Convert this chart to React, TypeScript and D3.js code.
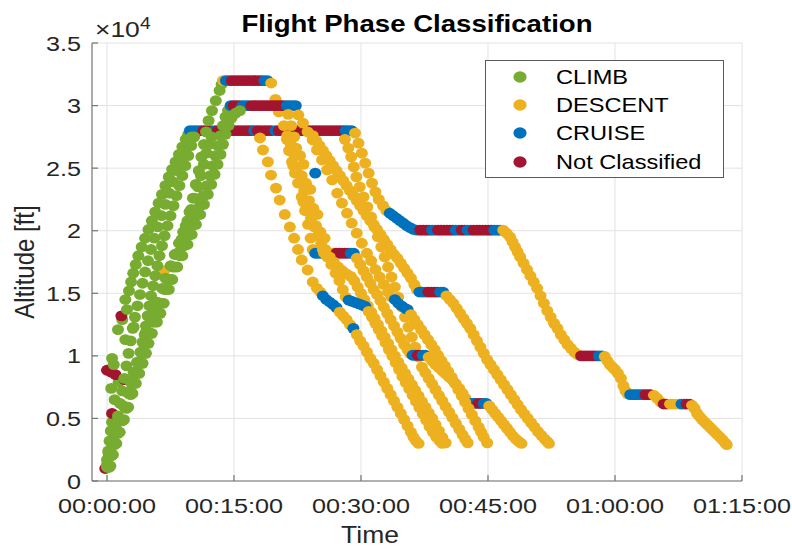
import React from 'react';
import * as d3 from 'd3';

// phase indices
const CL = 0, DE = 1, CR = 2, NC = 3;
const phases = ['CLIMB', 'DESCENT', 'CRUISE', 'Not Classified'];
const phaseColors = ['#77AC30', '#EDB120', '#0072BD', '#A2142F'];

const xTicks = [0, 15, 30, 45, 60, 75]; // minutes
const xTickLabels = ['00:00:00', '00:15:00', '00:30:00', '00:45:00', '01:00:00', '01:15:00'];
const yTicks = [0, 5000, 10000, 15000, 20000, 25000, 30000, 35000];
const yTickLabels = ['0', '0.5', '1', '1.5', '2', '2.5', '3', '3.5'];

type Pt = [number, number, number]; // [minutes, altitude kft, phase]

const outliers: Pt[] = [[6.75, 16.8, DE]];

const flight1: Pt[] = [
  [-0.2, 1.0, NC], [0.0, 1.7, CL], [0.15, 2.4, CL], [0.3, 3.2, CL], [0.45, 4.0, CL], [0.6, 4.7, CL], [0.6, 5.4, NC],
  [0.9, 6.5, CL], [0.5, 7.4, CL], [1.38, 7.9, CL], [0.0, 8.85, NC], [0.5, 8.7, NC], [1.0, 8.5, NC], [2.1, 8.1, NC],
  [0.8, 9.3, CL], [0.6, 9.8, CL], [2.17, 11.3, CL], [1.3, 12.1, CL], [3.15, 12.3, CL], [1.8, 12.9, CL], [1.7, 13.2, NC],
  [2.36, 13.7, CL], [2.17, 14.5, CL], [2.6, 15.2, CL], [2.85, 15.9, CL], [3.1, 16.6, CL], [3.4, 17.3, CL], [3.7, 18.0, CL],
  [4.1, 18.7, CL], [4.5, 19.4, CL], [4.9, 20.1, CL], [5.3, 20.8, CL], [5.7, 21.5, CL], [6.1, 22.2, CL], [6.5, 22.9, CL],
  [6.9, 23.6, CL], [7.3, 24.3, CL], [7.7, 24.9, CL], [8.1, 25.5, CL], [8.5, 26.1, CL], [8.9, 26.7, CL], [9.3, 27.3, CL],
  [9.6, 27.7, CL],
  [9.8, 28, CR], [10.2, 28, CR], [10.6, 28, CR], [11.0, 28, CR], [11.4, 28, NC], [11.8, 28, NC], [12.2, 28, NC],
  [12.7, 28, CR], [13.1, 28, NC], [13.5, 28, NC], [13.9, 28, NC], [14.3, 28, NC], [14.7, 28, NC], [15.1, 28, NC],
  [15.5, 28, NC], [15.9, 28, NC], [16.3, 28, NC], [16.7, 28, NC], [17.1, 28, NC], [17.4, 28, CR], [17.8, 28, NC],
  [18.2, 28, NC], [18.6, 28, NC], [19.0, 28, NC], [19.4, 28, NC], [19.9, 28, CR], [20.3, 28, NC], [20.7, 28, NC],
  [21.1, 28, NC], [21.5, 28, NC], [21.9, 28, NC], [22.3, 28, NC], [22.7, 28, NC], [23.1, 28, NC], [23.5, 28, NC],
  [23.9, 28, NC], [24.3, 28, NC], [24.7, 28, NC], [25.1, 28, NC], [25.5, 28, NC], [25.9, 28, NC], [26.3, 28, NC],
  [26.7, 28, NC], [27.1, 28, NC], [27.5, 28, NC], [27.9, 28, NC], [28.2, 28, CR], [28.55, 28, CR], [28.9, 28, CR],
  [29.3, 27.8, DE], [29.7, 27.0, DE], [30.1, 26.2, DE], [30.5, 25.4, DE], [30.9, 24.6, DE], [31.3, 23.8, DE],
  [31.7, 23.1, DE], [32.1, 22.5, DE], [32.6, 22.0, DE], [33.0, 21.6, DE],
  [33.4, 21.4, CR], [33.8, 21.2, CR], [34.2, 21.0, CR], [34.6, 20.8, CR], [35.0, 20.6, CR], [35.4, 20.4, CR],
  [35.8, 20.25, CR], [36.2, 20.1, CR], [36.6, 20.05, CR],
  [37.0, 20.05, NC], [37.35, 20.05, NC], [37.7, 20.05, NC], [38.05, 20.05, NC], [38.4, 20.05, CR], [38.75, 20.05, CR],
  [39.1, 20.05, NC], [39.45, 20.05, NC], [39.8, 20.05, NC], [40.15, 20.05, NC], [40.5, 20.05, NC], [40.85, 20.05, NC],
  [41.2, 20.05, CR], [41.55, 20.05, CR], [41.9, 20.05, NC], [42.25, 20.05, NC], [42.6, 20.05, CR], [42.95, 20.05, CR],
  [43.3, 20.05, NC], [43.65, 20.05, NC], [44.0, 20.05, NC], [44.35, 20.05, NC], [44.7, 20.05, NC], [45.05, 20.05, NC],
  [45.4, 20.05, NC], [45.75, 20.05, CR], [46.1, 20.05, CR], [46.45, 20.05, CR],
  [46.8, 20.05, DE], [47.2, 19.8, DE], [47.6, 19.5, DE], [47.9, 19.1, DE], [48.2, 18.7, DE], [48.5, 18.3, DE],
  [48.8, 17.9, DE], [49.2, 17.4, DE], [49.6, 16.9, DE], [50.0, 16.4, DE], [50.4, 15.9, DE], [50.8, 15.4, DE],
  [51.2, 14.8, DE], [51.6, 14.2, DE], [52.0, 13.6, DE], [52.4, 13.1, DE], [52.8, 12.6, DE], [53.2, 12.2, DE],
  [53.6, 11.7, DE], [54.0, 11.3, DE], [54.4, 10.9, DE], [54.8, 10.6, DE], [55.2, 10.3, DE], [55.6, 10.1, DE],
  [56.0, 10.0, NC], [56.35, 10.0, NC], [56.7, 10.0, NC], [57.05, 10.0, NC], [57.4, 10.0, NC], [57.75, 10.0, NC],
  [58.1, 10.0, CR], [58.45, 10.0, CR],
  [58.8, 9.95, DE], [59.1, 9.6, DE], [59.4, 9.3, DE], [59.7, 9.1, DE], [60.0, 8.9, DE], [60.35, 8.6, DE],
  [60.7, 8.2, DE], [61.0, 7.6, DE], [61.25, 7.2, DE], [61.5, 6.95, DE],
  [61.8, 6.9, CR], [62.1, 6.9, CR], [62.4, 6.9, CR], [62.7, 6.9, CR], [63.0, 6.9, CR], [63.3, 6.9, CR],
  [63.6, 6.9, NC], [63.9, 6.9, NC], [64.2, 6.9, NC],
  [64.6, 6.85, DE], [65.0, 6.6, DE], [65.4, 6.3, DE],
  [65.75, 6.15, NC], [66.1, 6.15, NC], [66.5, 6.15, DE], [66.85, 6.15, DE], [67.2, 6.15, DE], [67.55, 6.15, DE],
  [67.85, 6.15, CR], [68.15, 6.15, CR], [68.45, 6.15, NC], [68.8, 6.15, NC],
  [69.1, 6.05, DE], [69.4, 5.8, DE], [69.7, 5.4, DE], [70.0, 5.15, DE], [70.3, 4.9, DE], [70.6, 4.7, DE],
  [70.9, 4.5, DE], [71.2, 4.3, DE], [71.5, 4.1, DE], [71.8, 3.9, DE], [72.1, 3.7, DE], [72.4, 3.5, DE],
  [72.7, 3.3, DE], [73.0, 3.05, DE], [73.2, 2.9, DE],
];

const flight5: Pt[] = [
  [0.0, 1.1, CL], [0.2, 2.2, CL], [0.6, 3.0, CL], [0.94, 3.8, CL], [1.5, 4.9, CL], [2.1, 5.9, CL], [2.56, 7.0, CL],
  [2.95, 7.8, CL], [3.3, 8.6, CL], [3.7, 9.4, CL], [4.1, 10.2, CL], [4.3, 11.0, CL], [4.45, 11.7, CL], [4.6, 12.4, CL],
  [4.8, 13.2, CL], [5.0, 14.0, CL], [5.2, 14.8, CL], [5.45, 15.6, CL], [5.7, 16.4, CL], [5.95, 17.2, CL], [6.2, 18.0, CL],
  [6.5, 18.8, CL], [6.8, 19.6, CL], [7.15, 20.4, CL], [7.5, 21.2, CL], [7.85, 22.0, CL], [8.2, 22.8, CL], [8.55, 23.6, CL],
  [8.9, 24.4, CL], [9.25, 25.2, CL], [9.6, 26.0, CL], [9.95, 26.8, CL], [10.3, 27.5, CL],
  [18.07, 27.41, DE], [18.42, 26.45, DE], [19.0, 25.5, DE], [19.37, 24.45, DE], [19.96, 23.4, DE], [20.4, 22.45, DE],
  [21.0, 21.3, DE], [21.6, 20.3, DE], [22.1, 19.4, DE], [22.56, 18.5, DE], [23.0, 17.66, DE], [23.7, 16.86, DE],
  [24.3, 15.9, DE], [24.8, 15.4, DE], [25.2, 15.1, DE],
  [25.5, 14.8, CR], [25.9, 14.5, CR], [26.3, 14.3, CR], [26.7, 14.1, CR], [27.1, 13.85, CR],
  [27.5, 13.5, DE], [27.9, 13.2, DE], [28.3, 12.9, DE], [28.7, 12.5, DE], [29.1, 12.2, CR], [29.5, 11.7, DE],
  [29.9, 11.2, DE], [30.3, 10.8, DE], [30.7, 10.3, DE], [31.1, 9.8, DE], [31.5, 9.4, DE], [31.9, 8.9, DE],
  [32.3, 8.4, DE], [32.7, 7.9, DE], [33.1, 7.4, DE], [33.5, 6.9, DE], [33.9, 6.4, DE], [34.3, 5.9, DE],
  [34.7, 5.4, DE], [35.1, 4.9, DE], [35.5, 4.4, DE], [35.9, 3.9, DE], [36.2, 3.5, DE], [36.5, 3.2, DE], [36.8, 3.0, DE],
];

const flight2: Pt[] = [
  [0.3, 1.2, CL], [0.55, 2.2, CL], [0.8, 3.2, CL], [1.05, 4.2, CL], [1.3, 5.2, CL], [1.55, 6.2, CL], [1.8, 7.2, CL],
  [2.05, 8.2, CL], [2.3, 9.2, CL], [2.55, 10.2, CL], [2.8, 11.2, CL], [3.05, 12.2, CL], [3.3, 13.1, CL], [3.6, 14.0, CL],
  [3.9, 14.9, CL], [4.2, 15.8, CL], [4.5, 16.7, CL], [4.85, 17.6, CL], [5.2, 18.5, CL], [5.6, 19.4, CL], [6.0, 20.3, CL],
  [6.45, 21.2, CL], [6.9, 22.1, CL], [7.35, 23.0, CL], [7.8, 23.9, CL], [8.25, 24.8, CL], [8.7, 25.6, CL], [9.15, 26.4, CL],
  [9.6, 27.1, CL], [10.0, 27.5, CL],
  [24.3, 27.6, DE], [24.7, 27.2, DE], [25.1, 26.8, DE], [25.5, 26.4, DE], [25.9, 26.0, DE], [26.3, 25.6, DE],
  [26.7, 25.2, DE], [27.1, 24.8, DE], [27.5, 24.4, DE], [27.9, 24.0, DE], [28.3, 23.6, DE], [28.7, 23.2, DE],
  [29.1, 22.8, DE], [29.5, 22.4, DE], [29.9, 22.0, DE], [30.3, 21.6, DE], [30.7, 21.2, DE], [31.1, 20.8, DE],
  [31.5, 20.5, DE], [31.9, 20.1, DE], [32.3, 19.7, DE], [32.7, 19.3, DE], [33.1, 18.9, DE], [33.5, 18.5, DE],
  [33.9, 18.1, DE], [34.3, 17.8, DE], [34.7, 17.4, DE], [35.1, 17.0, DE], [35.5, 16.6, DE], [35.9, 16.2, DE],
  [36.3, 15.7, DE], [36.6, 15.3, DE],
  [36.9, 15.1, CR], [37.25, 15.1, CR], [37.6, 15.1, CR], [37.95, 15.1, NC], [38.3, 15.1, NC], [38.65, 15.1, NC],
  [39.0, 15.1, NC], [39.35, 15.1, CR], [39.7, 15.1, CR],
  [40.1, 14.8, DE], [40.5, 14.5, DE], [40.9, 14.2, DE], [41.3, 13.8, DE], [41.7, 13.4, DE], [42.1, 13.0, DE],
  [42.5, 12.6, DE], [42.9, 12.2, DE], [43.3, 11.7, DE], [43.7, 11.2, DE], [44.1, 10.7, DE], [44.5, 10.2, DE],
  [44.9, 9.7, DE], [45.3, 9.3, DE], [45.7, 8.9, DE], [46.1, 8.5, DE], [46.5, 8.1, DE], [46.9, 7.7, DE],
  [47.3, 7.3, DE], [47.7, 6.9, DE], [48.1, 6.5, DE], [48.5, 6.1, DE], [48.9, 5.7, DE], [49.3, 5.35, DE],
  [49.7, 5.0, DE], [50.1, 4.65, DE], [50.5, 4.3, DE], [50.9, 3.95, DE], [51.3, 3.65, DE], [51.7, 3.35, DE],
  [52.0, 3.15, DE], [52.2, 3.0, DE],
];

const flight7: Pt[] = [
  [0.0, 1.3, CL], [0.2, 2.3, CL], [0.5, 3.1, CL], [0.85, 3.9, CL], [1.35, 5.0, CL], [1.95, 6.0, CL], [2.4, 7.1, CL],
  [2.8, 7.9, CL], [3.15, 8.7, CL], [3.55, 9.5, CL], [3.95, 10.3, CL], [4.2, 11.1, CL], [4.6, 11.9, CL], [5.15, 12.8, CL],
  [5.55, 13.5, CL], [5.95, 14.3, CL], [6.5, 15.4, CL], [6.9, 16.2, CL], [7.5, 17.2, CL], [8.0, 18.1, CL], [8.5, 19.0, CL],
  [9.0, 19.9, CL], [9.5, 20.8, CL], [9.95, 21.7, CL], [10.35, 22.6, CL], [10.75, 23.5, CL], [11.1, 24.4, CL],
  [11.45, 25.3, CL], [11.75, 26.2, CL], [12.05, 26.9, CL], [12.35, 27.5, CL],
  [28.1, 27.3, DE], [28.5, 26.6, DE], [28.85, 25.9, DE], [29.15, 25.1, DE], [29.45, 24.3, DE], [29.85, 23.5, DE],
  [30.3, 22.7, DE], [30.75, 21.9, DE], [31.2, 21.1, DE], [31.6, 20.3, DE], [32.0, 19.5, DE], [32.4, 18.7, DE],
  [32.8, 17.9, DE], [33.2, 17.1, DE], [33.6, 16.3, DE], [34.0, 15.5, DE], [34.4, 14.7, DE], [34.8, 13.9, DE],
  [35.2, 13.1, DE], [35.6, 12.3, DE], [36.0, 11.5, DE], [36.4, 10.7, DE], [36.8, 9.9, DE], [37.2, 9.1, DE],
  [37.6, 8.65, DE], [38.0, 8.2, DE], [38.4, 7.75, DE], [38.8, 7.3, DE], [39.2, 6.85, DE], [39.6, 6.4, DE],
  [40.0, 5.95, DE], [40.4, 5.5, DE], [40.8, 5.05, DE], [41.2, 4.6, DE], [41.6, 4.15, DE], [42.0, 3.7, DE],
  [42.3, 3.35, DE], [42.6, 3.05, DE],
];

const flight3: Pt[] = [
  [0.1, 1.1, CL], [0.3, 2.1, CL], [0.7, 3.0, CL], [1.05, 3.8, CL], [1.55, 4.9, CL], [2.15, 5.9, CL], [2.6, 7.0, CL],
  [3.0, 7.8, CL], [3.35, 8.6, CL], [3.75, 9.4, CL], [4.15, 10.2, CL], [4.4, 11.0, CL], [4.8, 11.8, CL], [5.35, 12.7, CL],
  [5.75, 13.4, CL], [6.15, 14.2, CL], [6.75, 15.3, CL], [7.15, 16.1, CL], [7.75, 17.1, CL], [8.3, 18.2, CL],
  [8.8, 19.3, CL], [9.3, 20.4, CL], [9.75, 21.5, CL], [10.15, 22.6, CL], [10.5, 23.7, CL], [10.85, 24.8, CL],
  [11.15, 25.9, CL], [11.45, 26.9, CL], [11.7, 27.9, CL], [12.0, 28.8, CL], [12.4, 29.6, CL], [12.85, 30.4, CL],
  [13.3, 31.2, CL], [13.55, 31.7, CL],
  [13.7, 32.0, DE], [14.05, 32.0, CR], [14.4, 32.0, CR], [14.75, 32.0, NC], [15.1, 32.0, NC], [15.45, 32.0, NC],
  [15.8, 32.0, NC], [16.15, 32.0, NC], [16.5, 32.0, NC], [16.85, 32.0, NC], [17.2, 32.0, NC], [17.55, 32.0, NC],
  [17.9, 32.0, NC], [18.25, 32.0, NC], [18.6, 32.0, CR], [18.95, 32.0, CR],
  [19.4, 31.8, DE], [19.9, 30.5, DE], [20.3, 29.5, DE], [20.9, 28.4, DE], [21.25, 27.3, DE], [21.5, 26.4, DE],
  [21.85, 25.5, DE], [22.2, 24.6, DE], [22.56, 23.8, DE], [23.0, 22.7, DE], [23.4, 21.6, DE], [23.75, 20.5, DE],
  [24.05, 19.4, DE], [24.3, 18.5, DE],
  [24.6, 18.2, CR], [24.95, 18.2, CR], [25.3, 18.2, CR], [25.65, 18.2, DE], [26.0, 18.2, DE], [26.35, 18.2, DE],
  [26.7, 18.2, DE], [27.05, 18.2, NC], [27.4, 18.2, NC], [27.75, 18.2, NC], [28.1, 18.2, NC], [28.45, 18.2, NC],
  [28.8, 18.2, CR], [29.15, 18.2, CR],
  [29.5, 17.8, DE], [29.9, 17.3, DE], [30.3, 16.8, DE], [30.7, 16.3, DE], [31.1, 15.8, DE], [31.5, 15.3, DE],
  [31.9, 14.9, DE], [32.3, 14.4, DE], [32.7, 13.9, DE], [33.1, 13.4, DE], [33.5, 12.9, DE], [33.9, 12.4, DE],
  [34.3, 11.9, DE], [34.7, 11.4, DE], [35.1, 10.9, DE], [35.5, 10.5, DE], [35.8, 10.2, DE],
  [36.1, 10.05, CR], [36.4, 10.05, CR], [36.7, 10.05, NC], [37.0, 10.05, NC], [37.3, 10.05, CR], [37.6, 10.05, CR],
  [38.0, 9.9, DE], [38.4, 9.6, DE], [38.8, 9.3, DE], [39.2, 9.05, DE], [39.6, 8.8, DE], [40.0, 8.55, DE],
  [40.4, 8.3, DE], [40.8, 8.05, DE], [41.2, 7.75, DE], [41.6, 7.4, DE], [42.0, 7.0, DE], [42.35, 6.6, DE],
  [42.65, 6.25, DE],
  [42.9, 6.2, CR], [43.2, 6.2, CR], [43.5, 6.2, CR], [43.85, 6.2, NC], [44.2, 6.2, NC], [44.5, 6.2, CR], [44.8, 6.2, CR],
  [45.15, 6.0, DE], [45.5, 5.7, DE], [45.85, 5.4, DE], [46.2, 5.1, DE], [46.55, 4.8, DE], [46.9, 4.5, DE],
  [47.25, 4.2, DE], [47.6, 3.9, DE], [47.95, 3.6, DE], [48.3, 3.35, DE], [48.65, 3.15, DE], [48.95, 3.0, DE],
];

const flight4: Pt[] = [
  [0.3, 1.1, CL], [0.5, 2.0, CL], [0.9, 2.9, CL], [1.3, 3.8, CL], [1.8, 4.8, CL], [2.3, 5.8, CL], [2.8, 6.9, CL],
  [3.2, 7.8, CL], [3.6, 8.6, CL], [4.0, 9.4, CL], [4.4, 10.2, CL], [4.7, 11.0, CL], [5.1, 11.8, CL], [5.6, 12.7, CL],
  [6.0, 13.4, CL], [6.4, 14.2, CL], [7.0, 15.3, CL], [7.4, 16.1, CL], [8.0, 17.1, CL], [8.6, 18.0, CL], [9.1, 18.8, CL],
  [9.6, 19.6, CL], [10.1, 20.4, CL], [10.6, 21.2, CL], [11.0, 22.0, CL], [11.4, 22.8, CL], [11.8, 23.6, CL],
  [12.2, 24.4, CL], [12.5, 25.2, CL], [12.8, 26.0, CL], [13.1, 26.8, CL], [13.4, 27.6, CL], [13.7, 28.4, CL],
  [14.0, 29.1, CL], [14.3, 29.6, CL],
  [14.6, 30, CR], [14.95, 30, NC], [15.3, 30, NC], [15.65, 30, NC], [16.0, 30, CR], [16.35, 30, CR], [16.7, 30, CR],
  [17.05, 30, NC], [17.4, 30, NC], [17.75, 30, NC], [18.1, 30, NC], [18.45, 30, NC], [18.8, 30, NC], [19.15, 30, NC],
  [19.5, 30, NC], [19.85, 30, NC], [20.2, 30, NC], [20.55, 30, NC], [20.9, 30, NC], [21.25, 30, CR], [21.6, 30, CR],
  [21.95, 30, CR], [22.3, 30, CR],
  [22.6, 29.25, DE], [23.15, 28.6, DE], [23.7, 27.9, DE], [24.3, 27.25, DE], [24.8, 26.45, DE], [25.4, 25.65, DE],
  [26.0, 24.85, DE], [26.6, 24.05, DE], [27.2, 23.0, DE], [27.75, 22.2, DE], [28.35, 21.4, DE], [28.9, 20.6, DE],
  [29.5, 19.8, DE], [30.1, 19.0, DE], [30.7, 18.2, DE], [31.2, 17.6, DE], [31.7, 16.9, DE], [32.2, 16.3, DE],
  [32.7, 15.7, DE], [33.2, 15.1, DE], [33.6, 14.7, DE],
  [34.0, 14.5, CR], [34.4, 14.2, CR], [34.8, 14.0, CR], [35.2, 13.8, CR], [35.5, 13.7, CR],
  [35.9, 13.3, DE], [36.3, 12.9, DE], [36.7, 12.5, DE], [37.1, 12.1, DE], [37.5, 11.7, DE], [37.9, 11.3, DE],
  [38.3, 10.9, DE], [38.7, 10.5, DE], [39.1, 10.05, DE], [39.5, 9.6, DE], [39.9, 9.2, DE], [40.3, 8.75, DE],
  [40.7, 8.3, DE], [41.1, 7.8, DE], [41.5, 7.3, DE], [41.9, 6.8, DE], [42.3, 6.3, DE], [42.7, 5.8, DE],
  [43.1, 5.3, DE], [43.5, 4.8, DE], [43.9, 4.3, DE], [44.2, 3.9, DE], [44.5, 3.5, DE], [44.9, 3.05, DE],
];

const flight6: Pt[] = [
  [0.4, 1.2, CL], [0.7, 2.1, CL], [1.1, 3.0, CL], [1.5, 3.9, CL], [2.0, 4.9, CL], [2.5, 5.9, CL], [3.0, 7.0, CL],
  [3.4, 7.8, CL], [3.8, 8.6, CL], [4.2, 9.4, CL], [4.6, 10.2, CL], [4.9, 11.0, CL], [5.3, 11.8, CL], [5.9, 12.7, CL],
  [6.3, 13.4, CL], [6.7, 14.2, CL], [7.3, 15.3, CL], [7.7, 16.1, CL], [8.3, 17.1, CL], [8.9, 18.0, CL], [9.5, 18.9, CL],
  [10.0, 19.7, CL], [10.5, 20.5, CL], [11.0, 21.3, CL], [11.45, 22.1, CL], [11.9, 22.9, CL], [12.3, 23.7, CL],
  [12.7, 24.5, CL], [13.05, 25.3, CL], [13.4, 26.1, CL], [13.7, 26.9, CL], [14.0, 27.7, CL], [14.35, 28.4, CL],
  [14.7, 29.0, CL], [15.2, 29.4, CL], [15.7, 29.6, CL],
  [21.4, 29.3, DE], [21.75, 28.4, DE], [22.1, 27.5, DE], [22.35, 26.6, DE], [22.8, 26.0, DE], [23.2, 25.3, DE],
  [23.0, 24.4, DE], [23.5, 23.8, DE], [24.0, 23.3, DE], [24.6, 24.6, CR], [23.85, 22.4, DE], [24.35, 21.8, DE],
  [24.85, 21.3, DE], [24.7, 20.4, DE], [25.2, 19.9, DE], [25.7, 19.4, DE], [25.5, 18.5, DE], [26.0, 17.9, DE],
  [26.5, 17.3, DE], [27.0, 16.6, DE], [27.45, 16.0, DE], [27.85, 15.3, DE], [28.2, 14.7, DE],
  [28.55, 14.45, CR], [28.95, 14.35, CR], [29.35, 14.25, CR], [29.75, 14.15, CR], [30.15, 14.05, CR], [30.5, 13.95, CR],
  [30.9, 13.55, DE], [31.3, 13.1, DE], [31.7, 12.6, DE], [32.1, 12.1, DE], [32.5, 11.6, DE], [32.9, 11.05, DE],
  [33.3, 10.5, DE], [33.7, 10.0, DE], [34.1, 9.45, DE], [34.5, 8.9, DE], [34.9, 8.35, DE], [35.3, 7.85, DE],
  [35.7, 7.35, DE], [36.1, 6.85, DE], [36.5, 6.35, DE], [36.9, 5.85, DE], [37.3, 5.35, DE], [37.7, 4.85, DE],
  [38.1, 4.35, DE], [38.5, 3.9, DE], [38.9, 3.5, DE], [39.3, 3.2, DE], [39.6, 3.0, DE],
];

const flight8: Pt[] = [
  [21.3, 27.6, DE], [21.7, 26.9, DE], [22.1, 26.1, DE], [22.0, 25.2, DE], [22.5, 24.6, DE], [22.9, 23.9, DE],
  [23.3, 23.2, DE], [23.2, 22.3, DE], [23.7, 21.7, DE], [24.1, 21.0, DE], [24.5, 20.3, DE], [24.9, 19.6, DE],
  [25.3, 19.0, DE], [25.8, 18.5, DE], [26.3, 17.9, DE], [26.8, 17.5, DE], [27.3, 17.1, DE], [27.8, 16.8, DE],
  [28.3, 16.55, DE], [28.8, 16.35, DE], [29.2, 16.0, DE], [29.6, 15.5, DE], [30.0, 15.0, DE], [30.4, 14.5, DE],
  [30.8, 14.0, DE], [31.2, 13.5, DE], [31.6, 13.0, DE], [32.0, 12.5, DE], [32.4, 12.0, DE], [32.8, 11.5, DE],
  [33.2, 11.0, DE], [33.6, 10.5, DE], [34.0, 10.0, DE], [34.4, 9.5, DE], [34.8, 9.05, DE], [35.2, 8.6, DE],
  [35.6, 8.15, DE], [36.0, 7.7, DE], [36.4, 7.25, DE], [36.8, 6.8, DE], [37.2, 6.35, DE], [37.6, 5.9, DE],
  [38.0, 5.45, DE], [38.4, 5.0, DE], [38.8, 4.5, DE], [39.2, 4.0, DE], [39.6, 3.5, DE], [40.0, 3.05, DE],
];

const drawOrder = [outliers, flight1, flight5, flight2, flight7, flight3, flight8, flight4, flight6];

const W = 792, H = 549;
const PL = 92, PR = 742, PT = 43, PB = 481;
const FONT = "'Liberation Sans', Arial, sans-serif";
const SX = 1.2; // horizontal stretch of the reference text

export default function App() {
  const x = d3.scaleLinear().domain([-1.77, 75]).range([PL, PR]);
  const y = d3.scaleLinear().domain([0, 35000]).range([PB, PT]);
  const pts = drawOrder.flat();
  const axisColor = '#737373';
  const textColor = '#262626';
  const legendY = [77, 105, 133, 162];

  return (
    <svg width={W} height={H} style={{ position: 'absolute', left: 0, top: 0, background: '#fff' }} fontFamily={FONT}>
      <rect x={0} y={0} width={W} height={H} fill="#fff" />
      {/* grid */}
      <g stroke="#e2e2e2" strokeWidth={1}>
        {xTicks.map((t) => (
          <line key={'gx' + t} x1={x(t)} x2={x(t)} y1={PT} y2={PB} />
        ))}
        {yTicks.map((v) => (
          <line key={'gy' + v} x1={PL} x2={PR} y1={y(v)} y2={y(v)} />
        ))}
      </g>
      {/* points */}
      <g>
        {pts.map((p, i) => (
          <ellipse key={i} cx={x(p[0])} cy={y(p[1] * 1000)} rx={6.0} ry={5.4} fill={phaseColors[p[2]]} />
        ))}
      </g>
      {/* axes */}
      <g stroke={axisColor} strokeWidth={1.2}>
        <line x1={PL} x2={PL} y1={PT} y2={PB} />
        <line x1={PL} x2={PR} y1={PB} y2={PB} />
        {xTicks.map((t) => (
          <line key={'tx' + t} x1={x(t)} x2={x(t)} y1={PB} y2={PB - 6} />
        ))}
        {yTicks.map((v) => (
          <line key={'ty' + v} x1={PL} x2={PL + 6} y1={y(v)} y2={y(v)} />
        ))}
      </g>
      {/* tick labels */}
      <g fill={textColor} fontSize={21}>
        {xTicks.map((t, i) => (
          <text key={'lx' + t} transform={`translate(${x(t)},${513}) scale(${SX},1)`} textAnchor="middle">
            {xTickLabels[i]}
          </text>
        ))}
        {yTicks.map((v, i) => (
          <text key={'ly' + v} transform={`translate(${81},${y(v) + 7.5}) scale(${SX},1)`} textAnchor="end">
            {yTickLabels[i]}
          </text>
        ))}
      </g>
      {/* exponent */}
      <g fill={textColor}>
        <text transform={`translate(95,37) scale(${SX},1)`} fontSize={22}>×10</text>
        <text transform={`translate(140,29) scale(${SX},1)`} fontSize={16}>4</text>
      </g>
      {/* axis labels */}
      <text transform={`translate(370,543) scale(1.15,1)`} textAnchor="middle" fontSize={23} fill={textColor}>
        Time
      </text>
      <text transform={`translate(34,262) scale(1.15,1) rotate(-90)`} textAnchor="middle" fontSize={24} fill={textColor}>
        Altitude [ft]
      </text>
      {/* title */}
      <text transform={`translate(417,32) scale(${SX},1)`} textAnchor="middle" fontSize={23} fontWeight="bold" fill="#000">
        Flight Phase Classification
      </text>
      {/* legend */}
      <g>
        <rect x={485.5} y={60.5} width={238} height={117} fill="#fff" stroke="#5a5a5a" strokeWidth={1} />
        {phases.map((name, i) => (
          <g key={name}>
            <ellipse cx={520} cy={legendY[i]} rx={6.6} ry={5.8} fill={phaseColors[i]} />
            <text transform={`translate(556,${legendY[i] + 7}) scale(1.18,1)`} fontSize={20} fill="#000">
              {name}
            </text>
          </g>
        ))}
      </g>
    </svg>
  );
}
